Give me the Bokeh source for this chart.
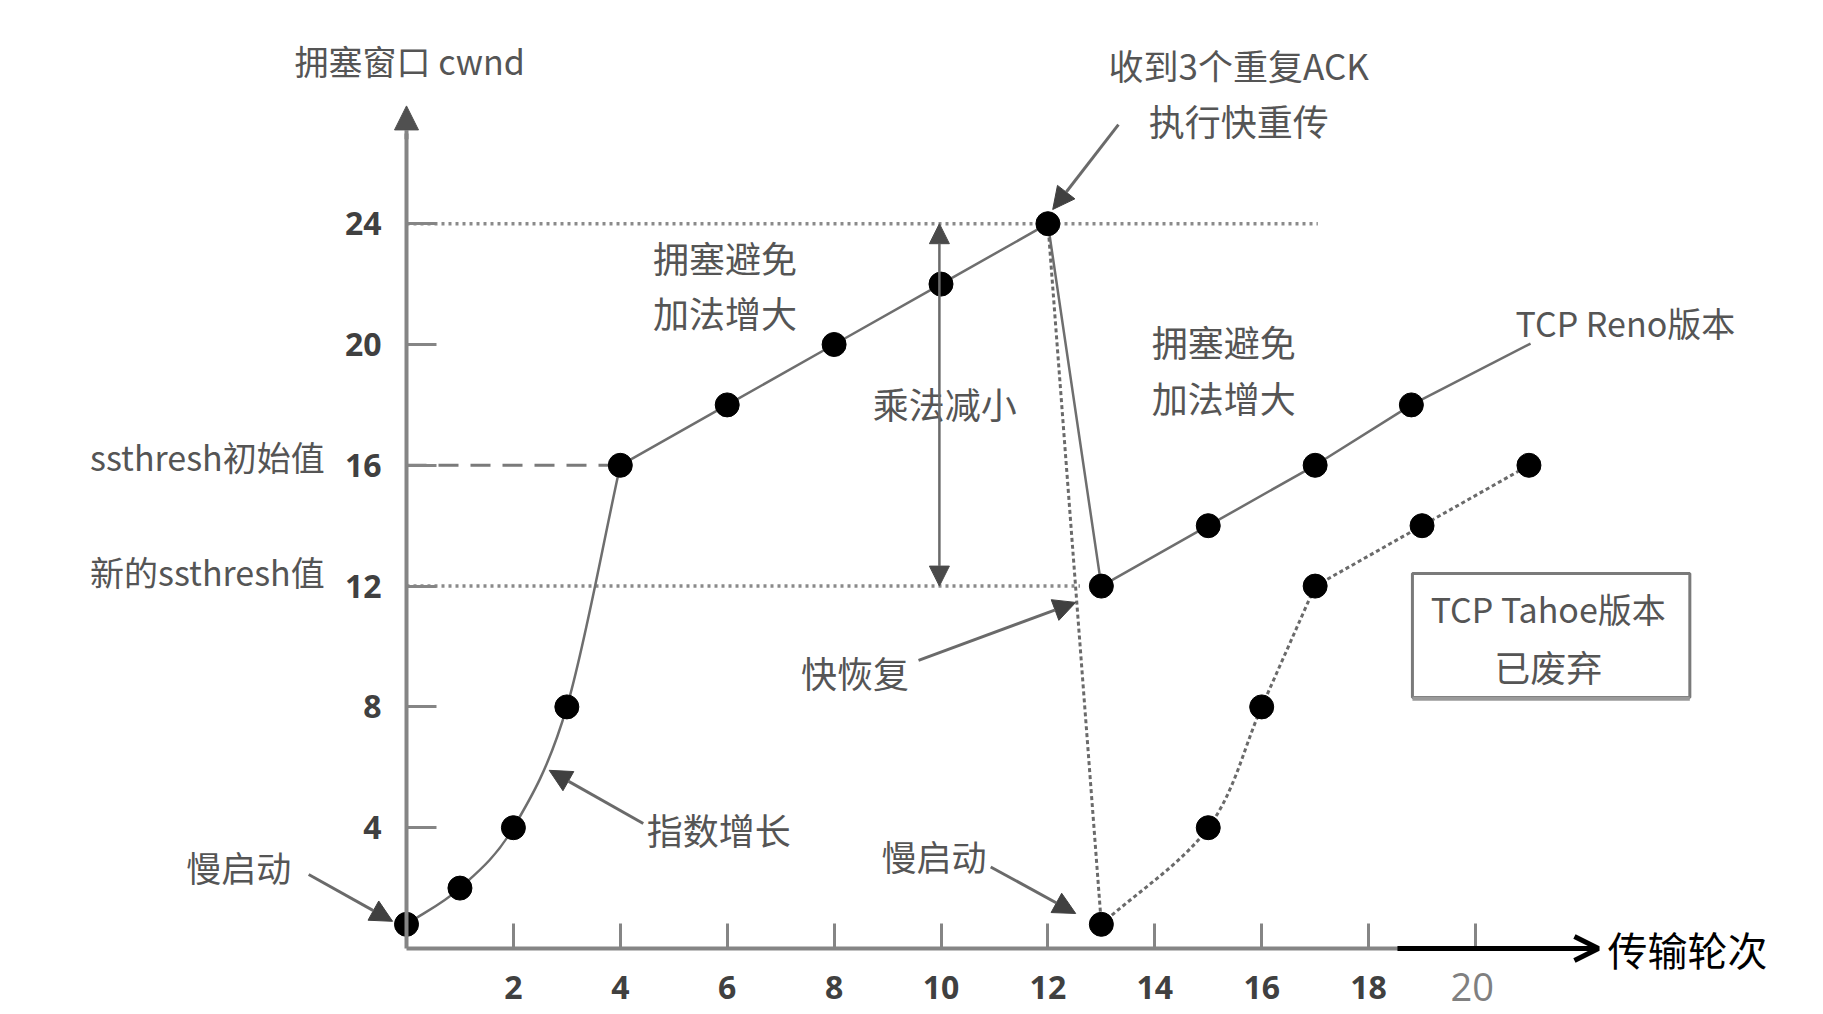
from bokeh.plotting import figure
from bokeh.models import Range1d, LinearAxis, FixedTicker, Arrow, NormalHead, OpenHead
from bokeh.core.properties import value
from bokeh.embed import file_html
from bokeh.resources import INLINE

# ---------------- data ----------------
x_ticks = [2, 4, 6, 8, 10, 12, 14, 16, 18, 20]
y_ticks = [4, 8, 12, 16, 20, 24]

rounds_main = [0, 1, 2, 3, 4, 6, 8, 10, 12]
cwnd_main = [0.8, 2, 4, 8, 16, 18, 20, 22, 24]

rounds_reno = [13, 15, 17, 18.8]
cwnd_reno = [12, 14, 16, 18]

rounds_tahoe = [13, 15, 16, 17, 19, 21]
cwnd_tahoe = [0.8, 4, 8, 12, 14, 16]

ssthresh_init = 16
ssthresh_new = 12
loss_cwnd = 24

# ---------------- layout ----------------
W, H = 1823, 1012
X0, SX = 406.0, 53.45   # page pixel of x=0, px per unit
Y0, SY = 948.0, 30.2    # page pixel of y=0, px per unit

p = figure(width=W, height=H,
           x_range=Range1d(-X0 / SX, (W - X0) / SX),
           y_range=Range1d((Y0 - H) / SY, Y0 / SY),
           output_backend="svg", toolbar_location=None,
           x_axis_location=None, y_axis_location=None,
           min_border=0, outline_line_color=None,
           background_fill_color="white", border_fill_color="white")
p.xgrid.visible = False
p.ygrid.visible = False

AX = "#858585"
TICK_FONT = "Open Sans"
CJK = value("Noto Sans CJK SC")
TXT = "#555555"

xaxis = LinearAxis(fixed_location=0, bounds=(0, 20),
                   ticker=FixedTicker(ticks=x_ticks),
                   major_tick_in=25, major_tick_out=0,
                   minor_tick_in=0, minor_tick_out=0,
                   axis_line_color=AX, axis_line_width=4,
                   major_tick_line_color=AX, major_tick_line_width=3,
                   major_label_standoff=27,
                   major_label_text_font=TICK_FONT,
                   major_label_text_font_size="32px",
                   major_label_text_font_style="bold",
                   major_label_text_color="#404040",
                   major_label_overrides={20: ""})
p.add_layout(xaxis, "below")

yaxis = LinearAxis(fixed_location=0, bounds=(0, 27.0),
                   ticker=FixedTicker(ticks=y_ticks),
                   major_tick_in=30, major_tick_out=0,
                   minor_tick_in=0, minor_tick_out=0,
                   axis_line_color=AX, axis_line_width=4,
                   major_tick_line_color=AX, major_tick_line_width=3,
                   major_label_standoff=25,
                   major_label_text_font=TICK_FONT,
                   major_label_text_font_size="32px",
                   major_label_text_font_style="bold",
                   major_label_text_color="#404040")
p.add_layout(yaxis, "left")

# y axis arrow head
p.add_layout(Arrow(x_start=0, y_start=26.8, x_end=0, y_end=27.9,
                   end=NormalHead(size=24, fill_color="#505050", line_color="#505050"),
                   line_color=AX, line_width=4))

# black x arrow
p.add_layout(Arrow(x_start=18.54, y_start=0, x_end=22.3, y_end=0,
                   end=OpenHead(size=24, line_width=5, line_color="black"),
                   line_color="black", line_width=5))

# reference lines
p.segment(x0=[0], y0=[loss_cwnd], x1=[17.05], y1=[loss_cwnd],
          line_color="#8a8a8a", line_width=3.5, line_dash="3 4")
p.segment(x0=[0], y0=[ssthresh_new], x1=[12.6], y1=[ssthresh_new],
          line_color="#8a8a8a", line_width=3.5, line_dash="3 4")
p.segment(x0=[0], y0=[ssthresh_init], x1=[rounds_main[4]], y1=[ssthresh_init],
          line_color="#7a7a7a", line_width=3, line_dash="20 12")

LINE = "#6e6e6e"


def smooth(xs, ys, **kw):
    """Draw a smooth (Catmull-Rom as cubic Bezier) path through the given points."""
    n = len(xs)
    tx, ty = [], []
    for i in range(n):
        if i == 0:
            tx.append(xs[1] - xs[0]); ty.append(ys[1] - ys[0])
        elif i == n - 1:
            tx.append(xs[-1] - xs[-2]); ty.append(ys[-1] - ys[-2])
        else:
            tx.append((xs[i + 1] - xs[i - 1]) / 2); ty.append((ys[i + 1] - ys[i - 1]) / 2)
    p.bezier(x0=xs[:-1], y0=ys[:-1], x1=xs[1:], y1=ys[1:],
             cx0=[xs[i] + tx[i] / 3 for i in range(n - 1)],
             cy0=[ys[i] + ty[i] / 3 for i in range(n - 1)],
             cx1=[xs[i + 1] - tx[i + 1] / 3 for i in range(n - 1)],
             cy1=[ys[i + 1] - ty[i + 1] / 3 for i in range(n - 1)], **kw)


# slow start (smooth), then linear growth
smooth(rounds_main[:5], cwnd_main[:5], line_color=LINE, line_width=2.5)
p.line(rounds_main[4:], cwnd_main[4:], line_color=LINE, line_width=2.5)
# Reno branch
p.line([rounds_main[-1]] + rounds_reno, [cwnd_main[-1]] + cwnd_reno,
       line_color=LINE, line_width=2.5)
p.segment(x0=[rounds_reno[-1]], y0=[cwnd_reno[-1]], x1=[21.03], y1=[20.03],
          line_color=LINE, line_width=2.5)
# Tahoe branch (dotted)
TDASH = dict(line_color="#6a6a6a", line_width=3, line_dash="4 3")
p.line([rounds_main[-1], rounds_tahoe[0]], [cwnd_main[-1], cwnd_tahoe[0]], **TDASH)
smooth(rounds_tahoe[:4], cwnd_tahoe[:4], **TDASH)
p.line(rounds_tahoe[3:], cwnd_tahoe[3:], **TDASH)

# markers
p.scatter(rounds_main + rounds_reno + rounds_tahoe,
          cwnd_main + cwnd_reno + cwnd_tahoe,
          size=24, fill_color="black", line_color="black")

# multiplicative decrease double arrow
p.add_layout(Arrow(x_start=9.97, y_start=ssthresh_new, x_end=9.97, y_end=loss_cwnd,
                   start=NormalHead(size=20, fill_color="#4a4a4a", line_color="#4a4a4a"),
                   end=NormalHead(size=20, fill_color="#4a4a4a", line_color="#4a4a4a"),
                   line_color="#6a6a6a", line_width=2.5))


def ann_arrow(xs, ys, xe, ye):
    p.add_layout(Arrow(x_start=xs, y_start=ys, x_end=xe, y_end=ye,
                       end=NormalHead(size=22, fill_color="#404040", line_color="#404040"),
                       line_color="#6a6a6a", line_width=3))


ann_arrow(13.32, 27.28, 12.09, 24.47)   # 收到3个重复ACK
ann_arrow(9.58, 9.54, 12.52, 11.46)     # 快恢复
ann_arrow(-1.83, 2.45, -0.26, 0.9)      # 慢启动 1
ann_arrow(4.43, 4.14, 2.67, 5.9)        # 指数增长
ann_arrow(10.93, 2.7, 12.52, 1.16)      # 慢启动 2

# Tahoe box
p.quad(left=[18.82], right=[24.01], top=[12.42], bottom=[8.31],
       fill_color="white", line_color="#7a7a7a", line_width=3)
p.segment(x0=[18.82], y0=[8.27], x1=[24.01], y1=[8.27],
          line_color="#9a9a9a", line_width=4)


def ctext(x, y, s, size="36px", color=TXT, align="center", font=CJK, baseline="middle"):
    p.text(x=[x], y=[y], text=[s], text_font=font, text_font_size=size,
           text_color=color, text_align=align, text_baseline=baseline)


ctext(0.06, 29.4, "拥塞窗口 cwnd", size="34px")
ctext(15.57, 29.27, "收到3个重复ACK", size="35px")
ctext(15.57, 27.42, "执行快重传", size="36px")
ctext(5.96, 22.9, "拥塞避免", size="36px")
ctext(5.96, 21.06, "加法增大", size="36px")
ctext(10.07, 18.05, "乘法减小", size="36px")
ctext(15.29, 20.1, "拥塞避免", size="36px")
ctext(15.29, 18.26, "加法增大", size="36px")
ctext(20.75, 20.73, "TCP Reno版本", size="34px", align="left")
ctext(21.36, 11.26, "TCP Tahoe版本", size="34px")
ctext(21.36, 9.37, "已废弃", size="36px")
ctext(8.39, 9.14, "快恢复", size="36px")
ctext(-3.14, 2.7, "慢启动", size="35px")
ctext(5.84, 3.97, "指数增长", size="36px")
ctext(9.87, 3.08, "慢启动", size="35px")
ctext(-1.53, 16.3, "ssthresh初始值", size="34px", align="right")
ctext(-1.53, 12.5, "新的ssthresh值", size="34px", align="right")
ctext(22.47, 0.0, "传输轮次", size="40px", color="black", align="left")
ctext(x_ticks[-1] - 0.06, (Y0 - 986) / SY, str(x_ticks[-1]), size="38px", color="#808080",
      font=value("Open Sans"), baseline="middle")

open("out.html", "w").write(file_html(p, INLINE))
